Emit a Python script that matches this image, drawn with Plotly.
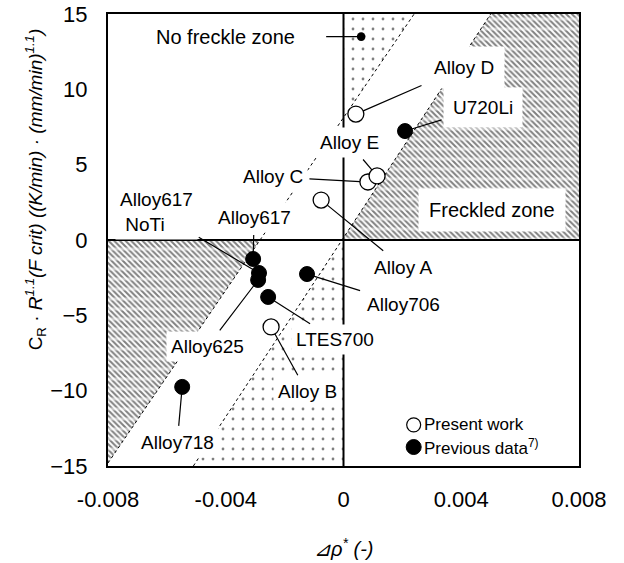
import plotly.graph_objects as go

# ---------------------------------------------------------------- data
present_names = ["Alloy A", "Alloy B", "Alloy C", "Alloy D", "Alloy E"]
present_drho = [-0.00076, -0.00246, 0.00083, 0.00042, 0.00114]
present_crit = [2.65, -5.77, 3.85, 8.36, 4.25]

previous_names = ["U720Li", "Alloy706", "LTES700", "Alloy617",
                  "Alloy617<br>\u00a0NoTi", "Alloy625", "Alloy718"]
previous_drho = [0.00209, -0.00124, -0.00256, -0.00307, -0.00287, -0.00290, -0.00548]
previous_crit = [7.23, -2.26, -3.78, -1.26, -2.19, -2.65, -9.75]

x_ticks = [-0.008, -0.004, 0, 0.004, 0.008]
x_tick_text = ["-0.008", "-0.004", "0", "0.004", "0.008"]
y_ticks = [15, 10, 5, 0, -5, -10, -15]

# criterion boundaries, given by their end points on the frame
upper_boundary = [(-0.0080, -14.8), (0.0024, 15.0)]
lower_boundary = [(-0.0051, -15.0), (0.0050, 15.0)]

X_RANGE = [-0.008, 0.008]
Y_RANGE = [-15, 15]

# ---------------------------------------------------------------- styling
FONT = "Liberation Sans, Arial, sans-serif"
label_offsets = {          # label position relative to its point, px
    "Alloy A": (82, 67),
    "Alloy B": (36, 65),
    "Alloy C": (-95, -5),
    "Alloy D": (108, -47),
    "Alloy E": (-28, -33),
    "U720Li": (78, -24),
    "Alloy706": (96, 30),
    "LTES700": (67, 43),
    "Alloy617": (1, -41),
    "Alloy617<br>\u00a0NoTi": (-103, -61),
    "Alloy625": (-51, 67),
    "Alloy718": (-5, 56),
}
label_pad = {"Alloy D": 10, "U720Li": 9}


def x_on(line, y):
    (xa, ya), (xb, yb) = line
    return xa + (y - ya) * (xb - xa) / (yb - ya)


def y_on(line, x):
    (xa, ya), (xb, yb) = line
    return ya + (x - xa) * (yb - ya) / (xb - xa)


fig = go.Figure()

# freckled regions (hatched)
hatch_regions = [
    ([x_on(lower_boundary, 0), lower_boundary[1][0], X_RANGE[1], X_RANGE[1]],
     [0, Y_RANGE[1], Y_RANGE[1], 0]),
    ([X_RANGE[0], x_on(upper_boundary, 0), upper_boundary[0][0]],
     [0, 0, upper_boundary[0][1]]),
]
# freckle-free regions (stippled)
dot_regions = [
    ([0, 0, upper_boundary[1][0]],
     [y_on(upper_boundary, 0), Y_RANGE[1], Y_RANGE[1]]),
    ([0, 0, lower_boundary[0][0]],
     [y_on(lower_boundary, 0), Y_RANGE[0], Y_RANGE[0]]),
]

for xs, ys in hatch_regions:
    fig.add_trace(go.Scatter(
        x=xs, y=ys, fill="toself", mode="none", hoverinfo="skip",
        fillcolor="rgba(0,0,0,0)",
        fillpattern=dict(shape="\\", size=4, solidity=0.5,
                         fgcolor="black", bgcolor="white")))
    fig.add_trace(go.Scatter(
        x=xs, y=ys, fill="toself", mode="none", hoverinfo="skip",
        fillcolor="rgba(0,0,0,0)",
        fillpattern=dict(shape="-", size=10, solidity=0.3,
                         fgcolor="white", bgcolor="rgba(0,0,0,0)")))

for xs, ys in dot_regions:
    fig.add_trace(go.Scatter(
        x=xs, y=ys, fill="toself", mode="none", hoverinfo="skip",
        fillcolor="rgba(0,0,0,0)",
        fillpattern=dict(shape=".", size=10, solidity=0.06,
                         fgcolor="black", bgcolor="white")))

for line in (upper_boundary, lower_boundary):
    fig.add_trace(go.Scatter(
        x=[p[0] for p in line], y=[p[1] for p in line], mode="lines",
        line=dict(color="black", width=1, dash="3px,3px"), hoverinfo="skip"))

fig.add_trace(go.Scatter(
    x=present_drho, y=present_crit, mode="markers", name="Present work",
    marker=dict(symbol="circle", size=16, color="white",
                line=dict(color="black", width=1.3))))
fig.add_trace(go.Scatter(
    x=previous_drho, y=previous_crit, mode="markers", name="Previous data",
    marker=dict(symbol="circle", size=15, color="black",
                line=dict(color="black", width=1))))

# quadrant lines through the origin
shapes = [
    dict(type="line", xref="x", yref="paper", x0=0, x1=0, y0=0, y1=1,
         line=dict(color="black", width=2), layer="above"),
    dict(type="line", xref="paper", yref="y", x0=0, x1=1, y0=0, y1=0,
         line=dict(color="black", width=2), layer="above"),
]

annotations = []
for names, xs, ys, standoff in ((present_names, present_drho, present_crit, 8),
                                (previous_names, previous_drho, previous_crit, 7)):
    for name, xv, yv in zip(names, xs, ys):
        ax, ay = label_offsets[name]
        annotations.append(dict(
            x=xv, y=yv, xref="x", yref="y", text=name, showarrow=True,
            ax=ax, ay=ay, arrowhead=0, arrowwidth=1.2, arrowcolor="black",
            standoff=standoff, startstandoff=2, align="left",
            bgcolor="white", borderpad=label_pad.get(name, 4),
            font=dict(family=FONT, size=19, color="black")))

annotations += [
    dict(x=0.0006, y=13.5, xref="x", yref="y", text="No freckle zone",
         showarrow=True, ax=-136, ay=0, arrowhead=6, arrowsize=1.8,
         arrowwidth=1.2, arrowcolor="black", standoff=0, startstandoff=30,
         font=dict(family=FONT, size=20, color="black")),
    dict(x=0.00504, y=2.0, xref="x", yref="y", text="Freckled zone",
         showarrow=False, bgcolor="white", borderpad=10,
         font=dict(family=FONT, size=20, color="black")),
    # legend
    dict(x=0.666, y=0.091, xref="paper", yref="paper", text="Present work",
         showarrow=False, xanchor="left", yanchor="middle",
         font=dict(family=FONT, size=17, color="black")),
    dict(x=0.666, y=0.042, xref="paper", yref="paper",
         text="Previous data<sup>7)</sup>",
         showarrow=False, xanchor="left", yanchor="middle",
         font=dict(family=FONT, size=17, color="black")),
    # axis titles
    dict(x=-0.155, y=0.612, xref="paper", yref="paper", textangle=-90,
         xanchor="center", yanchor="middle",
         text="C<sub>R</sub> · <i>R<sup>1.1</sup>(F crit) ((K/min) · (mm/min)<sup>1.1</sup>)</i>",
         showarrow=False, font=dict(family=FONT, size=19, color="black")),
    dict(x=0.5, y=-0.18, xref="paper", yref="paper",
         xanchor="center", yanchor="middle",
         text="<i>⊿ρ<sup>*</sup> (-)</i>",
         showarrow=False, font=dict(family=FONT, size=20, color="black")),
]

shapes += [
    dict(type="circle", xref="paper", yref="paper", xsizemode="pixel",
         ysizemode="pixel", xanchor=0.649, yanchor=0.091,
         x0=-7, x1=7, y0=-7, y1=7, line=dict(color="black", width=1.2),
         fillcolor="white", layer="above"),
    dict(type="circle", xref="paper", yref="paper", xsizemode="pixel",
         ysizemode="pixel", xanchor=0.649, yanchor=0.042,
         x0=-7.5, x1=7.5, y0=-7.5, y1=7.5, line=dict(color="black", width=1),
         fillcolor="black", layer="above"),
]

fig.update_layout(
    width=624, height=563,
    margin=dict(l=108, r=45, t=14, b=97, autoexpand=False),
    paper_bgcolor="white", plot_bgcolor="white",
    showlegend=False,
    font=dict(family=FONT, size=22, color="black"),
    shapes=shapes, annotations=annotations,
    xaxis=dict(range=X_RANGE, tickvals=x_ticks, ticktext=x_tick_text,
               showgrid=False, zeroline=False, showline=True, mirror=True,
               linecolor="black", linewidth=2, ticks="", ticklabelstandoff=13,
               automargin=False, tickfont=dict(family=FONT, size=22)),
    yaxis=dict(range=Y_RANGE, tickvals=y_ticks, showgrid=False,
               zeroline=False, showline=True, mirror=True,
               linecolor="black", linewidth=2, ticks="", ticklabelstandoff=14,
               automargin=False, tickfont=dict(family=FONT, size=22)),
)

fig.write_html("out.html")
